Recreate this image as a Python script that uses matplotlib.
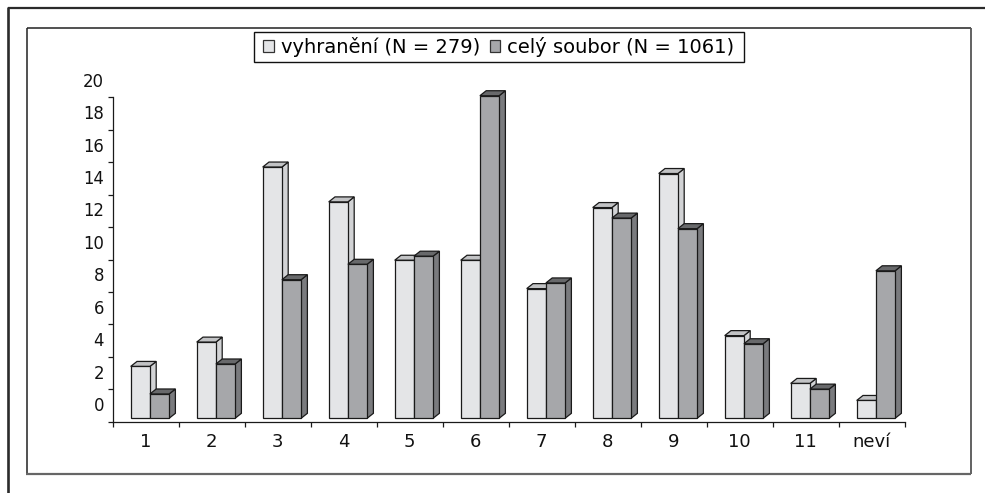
import matplotlib
matplotlib.use("Agg")
import matplotlib.pyplot as plt
from matplotlib.lines import Line2D
from matplotlib.patches import Patch, Polygon, Rectangle
from matplotlib.transforms import Affine2D

categories = ["1", "2", "3", "4", "5", "6", "7", "8", "9", "10", "11", "neví"]
vyhraneni = [3.2, 4.7, 15.5, 13.35, 9.75, 9.75, 8.0, 13.0, 15.1, 5.1, 2.15, 1.1]
soubor = [1.5, 3.35, 8.55, 9.5, 10.0, 19.9, 8.35, 12.35, 11.7, 4.6, 1.8, 9.1]
y_ticks = [0, 2, 4, 6, 8, 10, 12, 14, 16, 18, 20]
series_names = ["vyhranění (N = 279)", "celý soubor (N = 1061)"]

W, H = 985, 493
LIGHT = ("#e4e5e7", "#c2c3c5", "#d2d3d5")  # front, top, side
DARK = ("#a6a7aa", "#68696b", "#7a7b7e")
EDGE = "#1a1a1a"

fig = plt.figure(figsize=(W / 100, H / 100), dpi=100, facecolor="white")
plt.rcParams["font.family"] = "DejaVu Sans"


def px_line(x0, y0, x1, y1, color, lw):
    fig.add_artist(Line2D([x0 / W, x1 / W], [1 - y0 / H, 1 - y1 / H],
                          color=color, lw=lw, solid_capstyle="butt"))


# outer page lines
px_line(8, 8.3, W, 8.3, "#2b2b2b", 1.6)
px_line(8, 7, 8, H, "#2b2b2b", 1.9)
# chart frame
px_line(26.5, 27.5, 970.5, 27.5, "#222222", 1.1)
px_line(26.5, 27.5, 26.5, 474, "#222222", 1.1)
px_line(970.5, 27.5, 970.5, 474, "#555555", 1.3)
px_line(26, 473.8, 971, 473.8, "#666666", 1.6)

ax_left, ax_right, ax_bottom, ax_top = 112.5, 904.5, 421.7, 97.5
ax = fig.add_axes([ax_left / W, 1 - ax_bottom / H,
                   (ax_right - ax_left) / W, (ax_bottom - ax_top) / H])
ax.set_xlim(0, len(categories))
ax.set_ylim(0, 20)
ax.patch.set_visible(False)

px_x = len(categories) / (ax_right - ax_left)
px_y = 20 / (ax_bottom - ax_top)
floor = 3.4 * px_y
dx, dy = 6.3 * px_x, 5.0 * px_y
bar_w = 19.2 * px_x
start = -14.8 * px_x


def draw_bar(x, value, colors, z):
    y0, y1 = floor, floor + value
    x1 = x + bar_w
    ax.add_patch(Polygon([(x1, y0), (x1 + dx, y0 + dy), (x1 + dx, y1 + dy), (x1, y1)],
                         fc=colors[2], ec=EDGE, lw=0.9, zorder=z, clip_on=False))
    ax.add_patch(Polygon([(x, y1), (x + dx, y1 + dy), (x1 + dx, y1 + dy), (x1, y1)],
                         fc=colors[1], ec=EDGE, lw=0.9, zorder=z, clip_on=False))
    ax.add_patch(Rectangle((x, y0), bar_w, value, fc=colors[0], ec=EDGE, lw=0.9,
                           zorder=z, clip_on=False))


for i in range(len(categories)):
    x = i + 0.5 + start
    draw_bar(x, vyhraneni[i], LIGHT, 3)
    draw_bar(x + bar_w, soubor[i], DARK, 4)

for side in ("top", "right"):
    ax.spines[side].set_visible(False)
for side in ("left", "bottom"):
    ax.spines[side].set_linewidth(0.9)
    ax.spines[side].set_color(EDGE)

ax.set_xticks(range(len(categories) + 1))
ax.set_xticklabels([""] * (len(categories) + 1))
ax.set_xticks([i + 0.5 for i in range(len(categories))], categories, minor=True)
ax.tick_params(axis="x", which="major", length=3.6, width=0.9, color=EDGE)
ax.tick_params(axis="x", which="minor", length=0, labelsize=13, pad=8, labelcolor="#111111")
ax.set_yticks(y_ticks)
ax.tick_params(axis="y", length=3.6, width=0.9, color=EDGE, labelsize=11.9, pad=2.4, labelcolor="#111111")

# value labels sit above their tick marks in the original
label_shift = Affine2D().translate(0, 17.7)
for lab in ax.get_yticklabels():
    lab.set_transform(lab.get_transform() + label_shift)

# legend box drawn separately, the legend's own pad can't do wide and short
fig.add_artist(Rectangle((253.5 / W, 1 - 61.7 / H), 490 / W, 29.4 / H, transform=fig.transFigure,
                         fc="white", ec="#111111", lw=1.0))
handles = [Patch(fc=LIGHT[0], ec="#333333", lw=0.9), Patch(fc=DARK[0], ec="#333333", lw=0.9)]
leg = fig.legend(handles, series_names, loc="center", ncol=2,
                 bbox_to_anchor=(498.6 / W, 1 - 47 / H), fontsize=14.05,
                 frameon=False, handlelength=0.52, handleheight=0.52, handletextpad=0.36,
                 columnspacing=0.5, borderpad=0.3, borderaxespad=0)

fig.savefig("out.png", dpi=100, facecolor="white")
